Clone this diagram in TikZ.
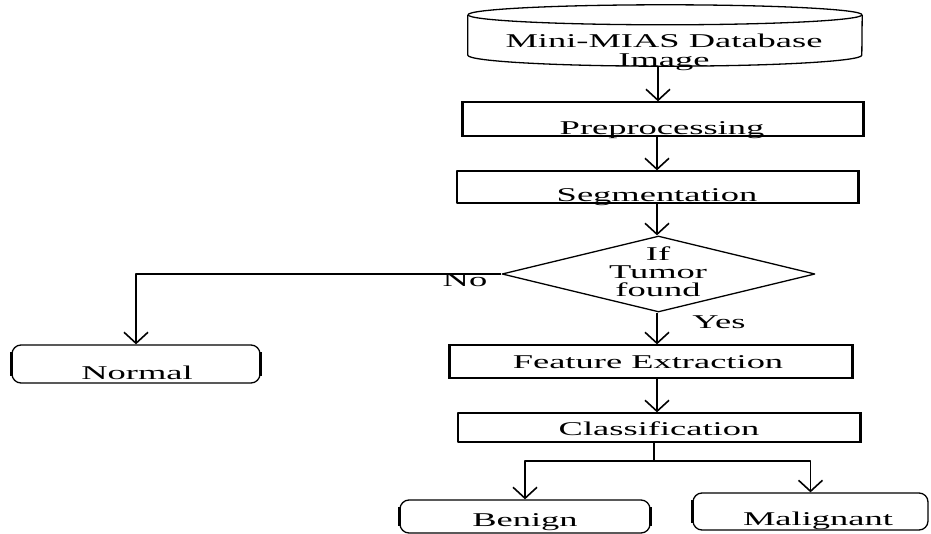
\documentclass[tikz,border=0pt]{standalone}
\usepackage{fontspec}
\setmainfont[FakeStretch=1.87]{Liberation Serif}
\usetikzlibrary{arrows.meta,shapes.geometric}
\begin{document}
\begin{tikzpicture}[x=1pt,y=-1pt,line join=round,
  box/.style={draw,line width=1.3pt,rectangle,inner sep=0pt},
  rbox/.style={box,rounded corners=9pt},
  lbl/.style={anchor=base,inner sep=0pt,font=\fontsize{19.5}{20}\selectfont},
  arr/.style={line width=1.8pt,-{Straight Barb[length=11pt,width=24pt,line width=1.6pt]}},
  plainline/.style={line width=1.8pt},
  thickside/.style={line width=3pt}]
\useasboundingbox (0,0) rectangle (931,534);

% cylinder (database)
\node[inner sep=0pt,minimum width=394pt,minimum height=40pt] (db) at (665,35) {};
\draw[line width=1.3pt] (db.north) ellipse [x radius=197pt,y radius=10pt];
\draw[line width=1.3pt] (db.north west) -- (db.south west)
  arc[start angle=180,end angle=360,x radius=197pt,y radius=11pt] -- (db.north east);
\coordinate (dbbot) at (658,66);

% boxes
\node[box,minimum width=400pt,minimum height=34pt] (pre) at (663,119) {};
\node[box,minimum width=401pt,minimum height=32pt] (seg) at (657.5,187) {};
\node[draw,line width=1.3pt,diamond,inner sep=0pt,minimum width=313pt,minimum height=76pt] (dia) at (658.5,274) {};
\node[box,minimum width=402pt,minimum height=33pt] (feat) at (651,361.5) {};
\node[box,minimum width=402pt,minimum height=29pt] (cls) at (659,427.5) {};
\node[rbox,minimum width=248pt,minimum height=38pt] (normal) at (136,364) {};
\node[rbox,minimum width=250pt,minimum height=33pt] (benign) at (525,516.5) {};
\node[rbox,minimum width=235pt,minimum height=37pt] (malig) at (810.5,511.5) {};

% heavier sides (as in the scan)
\draw[thickside] (pre.north west) -- (pre.south west);
\draw[line width=2.2pt] (pre.north east) -- (pre.south east);
\draw[thickside] (seg.north east) -- (seg.south east);
\draw[line width=2.2pt] (feat.north west) -- (feat.south west);
\draw[thickside] (feat.north east) -- (feat.south east);
\draw[thickside] (cls.north east) -- (cls.south east);
\draw[line width=2.4pt] ([yshift=-8pt]normal.north west) -- ([yshift=8pt]normal.south west);
\draw[line width=2.4pt] ([yshift=-8pt]normal.north east) -- ([yshift=8pt]normal.south east);
\draw[line width=2.6pt] ([yshift=-8pt]benign.north west) -- ([yshift=8pt]benign.south west);
\draw[line width=2.6pt] ([yshift=-8pt]benign.north east) -- ([yshift=8pt]benign.south east);
\draw[line width=2.4pt] ([yshift=-8pt]malig.north west) -- ([yshift=8pt]malig.south west);

% texts
\node[lbl,align=center,font=\fontsize{19.5}{19.5}\selectfont] (tdb) at (664,67) {Mini-MIAS Database\\Image};
\node[lbl] (tpre) at (662,135) {Preprocessing};
\node[lbl] (tseg) at (657,202) {Segmentation};
\node[lbl,align=center,font=\fontsize{19.5}{18}\selectfont] (tdia) at (658,297) {If\\Tumor\\found};
\node[lbl] (tno) at (465,287) {No};
\node[lbl] (tyes) at (719,328) {Yes};
\node[lbl] (tfeat) at (648,368) {Feature Extraction};
\node[lbl] (tcls) at (659,435) {Classification};
\node[lbl] (tnormal) at (137,379) {Normal};
\node[lbl] (tbenign) at (525,526) {Benign};
\node[lbl] (tmalig) at (818,525) {Malignant};

% connectors
\coordinate (col) at (657,0);
\draw[arr] (dbbot) -- (pre.north -| dbbot);
\draw[arr] (pre.south -| col) -- (seg.north -| col);
\draw[arr] (seg.south -| col) -- (dia.north -| col);
\draw[arr] (dia.south -| col) -- (feat.north -| col);
\draw[arr] (feat.south -| col) -- (cls.north -| col);
\draw[arr] (dia.west) -| (normal.north);
\coordinate (split) at (654,461);
\draw[plainline] (cls.south -| split) -- (split);
\draw[arr] (split) -| (benign.north);
\draw[arr] (split) -| (malig.north);
\end{tikzpicture}
\end{document}
